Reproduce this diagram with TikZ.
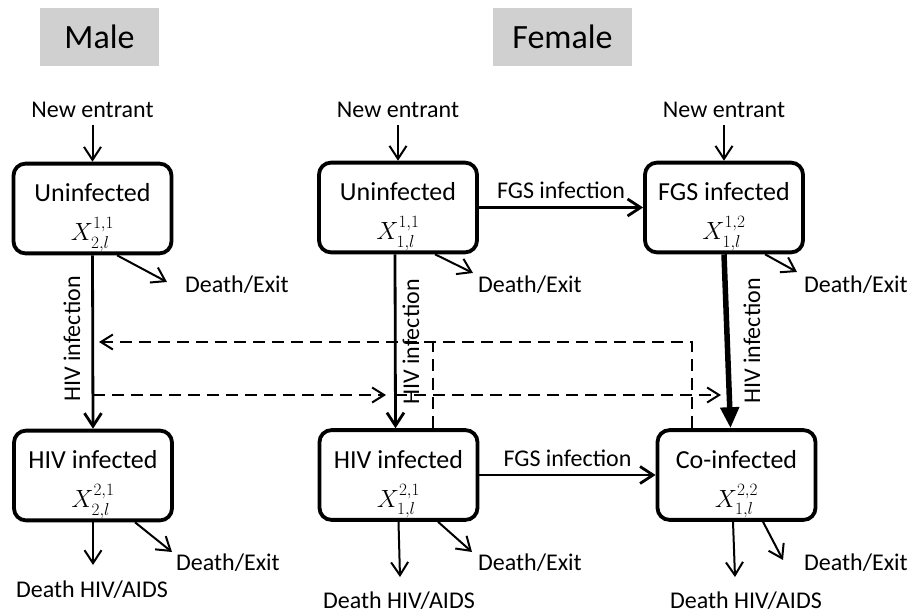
\documentclass[tikz,border=0pt]{standalone}
\usepackage{amsmath}
\usepackage{fontspec}
\setmainfont{Carlito}
\usepackage{tikz}
\usetikzlibrary{calc,arrows.meta}
\definecolor{hdrgray}{RGB}{208,208,208}
\tikzset{
  hdr/.style={fill=hdrgray, minimum height=58pt, inner sep=0pt, font=\fontsize{34}{40}\selectfont},
  state/.style={draw, line width=3.8pt, rounded corners=12pt, minimum width=158pt, minimum height=78pt,
    align=center, inner sep=2pt, font=\fontsize{26}{30}\selectfont},
  lbl/.style={inner sep=1pt, font=\fontsize{24}{28}\selectfont},
  thin/.style={-{Straight Barb[length=13pt,width=17pt,line width=2pt]}, line width=2pt},
  flow/.style={-{Straight Barb[length=13pt,width=17pt,line width=2.8pt]}, line width=2.8pt},
  big/.style={-{Triangle[length=21pt,width=18pt]}, line width=5.5pt},
  dflow/.style={-{Straight Barb[length=12pt,width=15pt,line width=2pt]}, line width=2pt, dash pattern=on 12pt off 7pt},
  dline/.style={line width=2pt, dash pattern=on 12pt off 7pt}
}
\def\cell#1#2#3{\rule{0pt}{36pt}#1\\[9pt]$X^{#2}_{#3}$}
\begin{document}
\begin{tikzpicture}[x=1pt,y=-1pt]
  \useasboundingbox (0,0) rectangle (907,615);
  \node[hdr, minimum width=119pt] (male) at (99.5,37) {Male};
  \node[hdr, minimum width=139pt] (female) at (562.5,37) {Female};

  \node[state] (mU) at (92.5,208.5) {\cell{Uninfected}{1,1}{2,l}};
  \node[state] (mH) at (93,475.5) {\cell{HIV infected}{2,1}{2,l}};
  \node[state] (fU) at (398,207.5) {\cell{Uninfected}{1,1}{1,l}};
  \node[state] (fF) at (724,207.5) {\cell{FGS infected}{1,2}{1,l}};
  \node[state] (fH) at (398.5,475) {\cell{HIV infected}{2,1}{1,l}};
  \node[state] (fC) at (736.5,475) {\cell{Co-infected}{2,2}{1,l}};

  \node[lbl] (mN) at (92.5,110) {New entrant};
  \node[lbl] (fN) at (398,110) {New entrant};
  \node[lbl] (gN) at (724,110) {New entrant};
  \draw[thin] ([yshift=-6pt]mN.south) -- (mU.north);
  \draw[thin] ([yshift=-6pt]fN.south) -- (fU.north);
  \draw[thin] ([yshift=-6pt]gN.south) -- (fF.north);

  \draw[flow] (fU.east) -- (fF.west) node[lbl, midway, above=6pt] (fgsU) {FGS infection};
  \draw[flow] (fH.east) -- (fC.west) node[lbl, midway, above=6pt] (fgsH) {FGS infection};

  \draw[flow] (mU.south) -- (mH.north);
  \draw[flow] ([xshift=-3pt]fU.south) -- ([xshift=-3pt]fH.north);
  \draw[big] (fF.south) -- ([xshift=-6pt]fC.north);
  \node[lbl, rotate=90] (hivM) at (72,339) {HIV infection};
  \node[lbl, rotate=90] (hivU) at (411,342) {HIV infection};
  \node[lbl, rotate=90] (hivF) at (752,341) {HIV infection};

  \coordinate (dL) at (99,342);
  \coordinate (dA) at (93,395);
  \coordinate (dB) at (386,395);
  \coordinate (dC) at (395,395);
  \coordinate (dD) at (721,395);
  \draw[dflow] ([xshift=-44.5pt]fC.north) |- (dL);
  \draw[dline] ([xshift=34.5pt]fH.north) -- ([xshift=34.5pt]fH.north |- dL);
  \draw[dflow] (dA) -- (dB);
  \draw[dflow] (dC) -- (dD);

  \coordinate (mUx) at (167,282);
  \coordinate (fUx) at (473,273);
  \coordinate (fFx) at (797,272);
  \coordinate (mHx) at (172,552);
  \coordinate (fHx) at (472,552);
  \coordinate (fCx) at (783,560);
  \draw[thin] ([xshift=24.5pt]mU.south) -- (mUx);
  \draw[thin] ([xshift=37pt]fU.south) -- (fUx);
  \draw[thin] ([xshift=41pt]fF.south) -- (fFx);
  \draw[thin] ([xshift=42pt]mH.south) -- (mHx);
  \draw[thin] ([xshift=39.5pt]fH.south) -- (fHx);
  \draw[thin] ([xshift=26.5pt]fC.south) -- (fCx);
  \node[lbl, anchor=west] (mUd) at (184,285) {Death/Exit};
  \node[lbl, anchor=west] (fUd) at (477,285) {Death/Exit};
  \node[lbl, anchor=west] (fFd) at (803,285) {Death/Exit};
  \node[lbl, anchor=west] (mHd) at (175,563) {Death/Exit};
  \node[lbl, anchor=west] (fHd) at (477,563) {Death/Exit};
  \node[lbl, anchor=west] (fCd) at (803,563) {Death/Exit};

  \coordinate (mHa) at (93,565);
  \coordinate (fHa) at (400,577);
  \coordinate (fCa) at (735,577);
  \draw[thin] (mH.south) -- (mHa);
  \draw[thin] (fH.south) -- (fHa);
  \draw[thin] ([xshift=-3.5pt]fC.south) -- (fCa);
  \node[lbl] (mHa2) at (92,590) {Death HIV/AIDS};
  \node[lbl] (fHa2) at (399,601) {Death HIV/AIDS};
  \node[lbl] (fCa2) at (746,601) {Death HIV/AIDS};
\end{tikzpicture}
\end{document}
